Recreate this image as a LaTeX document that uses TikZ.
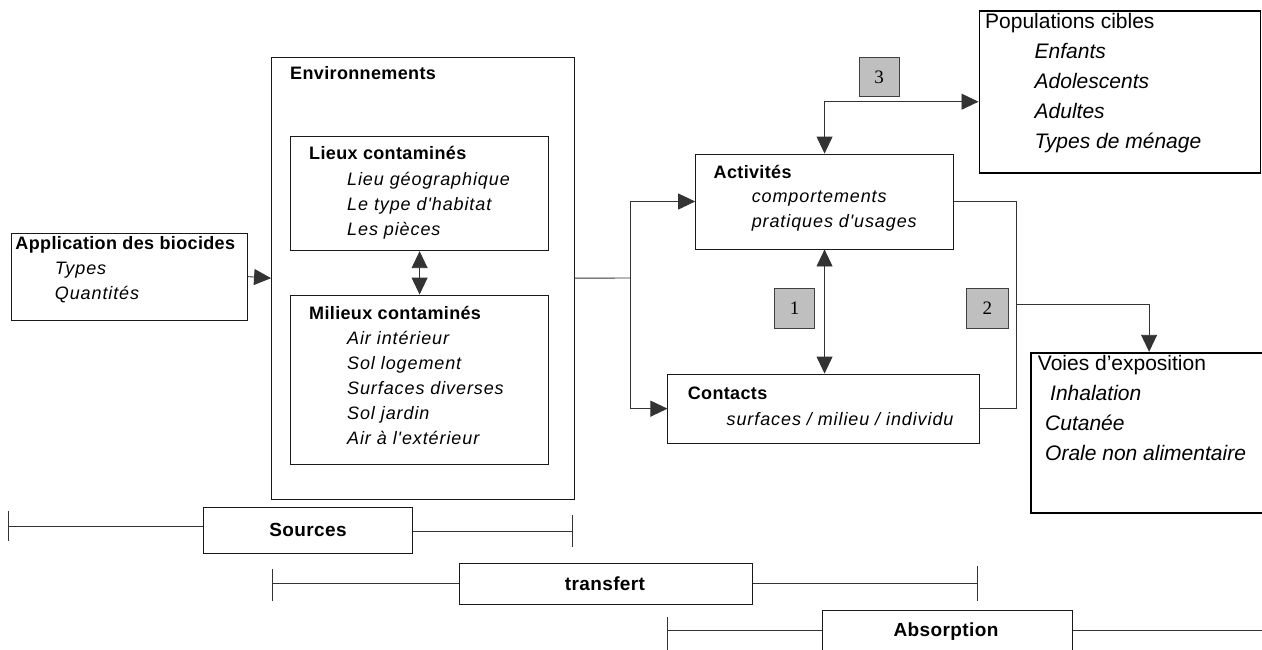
\documentclass[tikz,border=0pt]{standalone}
\usepackage{fontspec}
\setmainfont{Liberation Sans}
\newfontfamily\numfont{Liberation Serif}
\newfontfamily\spfont[LetterSpace=2]{Liberation Sans}
\newfontfamily\itfont[LetterSpace=5]{Liberation Sans}
\usetikzlibrary{fit,arrows.meta}
\begin{document}
\begin{tikzpicture}[x=1pt,y=-1pt,
 box/.style={draw=black!90, line width=0.9pt, inner sep=0pt},
 heavybox/.style={draw=black, line width=1.8pt, inner sep=0pt},
 numbox/.style={draw=black!75, line width=0.9pt, fill=black!25, inner sep=0pt},
 numlbl/.style={inner sep=0pt, font=\numfont\fontsize{19}{22}\selectfont},
 conn/.style={draw=black!80, line width=0.9pt},
 arr/.style={conn, -{Triangle[length=17pt,width=16pt]}},
 dblarr/.style={conn, {Triangle[length=17pt,width=16pt]}-{Triangle[length=17pt,width=16pt]}},
 ttl/.style={anchor=mid west, inner sep=0pt, font=\spfont\bfseries\fontsize{18}{20}\selectfont},
 itm/.style={anchor=mid west, inner sep=0pt, font=\itfont\itshape\fontsize{18}{20}\selectfont},
 bigttl/.style={anchor=mid west, inner sep=0pt, font=\fontsize{21}{25}\selectfont},
 bigitm/.style={anchor=mid west, inner sep=0pt, font=\itshape\fontsize{21}{25}\selectfont},
 barlbl/.style={inner sep=0pt, font=\spfont\bfseries\fontsize{19}{20}\selectfont}
]
\useasboundingbox (0,0) rectangle (1262,649);

% ---- boxes ----
\node[box, fit={(11.5,233.3) (247.6,320)}] (app) {};
\node[box, fit={(271.5,57.3) (574,499)}] (env) {};
\node[box, fit={(290.4,136.7) (548.8,250.7)}] (lieux) {};
\node[box, fit={(290.4,295) (548.8,464.3)}] (milieux) {};
\node[box, fit={(695.6,154) (953.5,249)}] (act) {};
\node[box, fit={(667.9,374) (979,443.3)}] (cont) {};
\node[heavybox, fit={(979.4,11) (1260.5,172.7)}] (pop) {};
\node[heavybox, fit={(1031,352.7) (1280,512.7)}] (voies) {};
\node[numbox, fit={(859,57.3) (899.3,96.7)}] (n3) {};
\node[numbox, fit={(774.9,288.3) (814.3,328.3)}] (n1) {};
\node[numbox, fit={(966.4,288.3) (1008.5,328.3)}] (n2) {};
\node[numlbl] (n3T) at (n3.center) {3};
\node[numlbl] (n1T) at (n1.center) {1};
\node[numlbl] (n2T) at (n2.center) {2};

% ---- texts ----
\node[ttl] (appT) at (15.3,246.7) {Application des biocides};
\node[itm] (appA) at (54.7,271.7) {Types};
\node[itm] (appB) at (54.7,296.7) {Quantités};

\node[ttl] (envT) at (290,76.7) {Environnements};

\node[ttl] (lieuxT) at (309,157) {Lieux contaminés};
\node[itm] (lieuxA) at (347,182.7) {Lieu géographique};
\node[itm] (lieuxB) at (347,207.7) {Le type d'habitat};
\node[itm] (lieuxC) at (347,232.7) {Les pièces};

\node[ttl] (milT) at (309,317.3) {Milieux contaminés};
\node[itm] (milA) at (347,342.3) {Air intérieur};
\node[itm] (milB) at (347,367.3) {Sol logement};
\node[itm] (milC) at (347,392.3) {Surfaces diverses};
\node[itm] (milD) at (347,417.3) {Sol jardin};
\node[itm] (milE) at (347,442.3) {Air à l'extérieur};

\node[ttl] (actT) at (713.5,176) {Activités};
\node[itm] (actA) at (751.6,200) {comportements};
\node[itm] (actB) at (751.6,225) {pratiques d'usages};

\node[ttl] (contT) at (687.6,396.7) {Contacts};
\node[itm] (contA) at (726.5,423.3) {surfaces / milieu / individu};

\node[bigttl] (popT) at (985,26) {Populations cibles};
\node[bigitm] (popA) at (1034.5,55.7) {Enfants};
\node[bigitm] (popB) at (1034.5,85.7) {Adolescents};
\node[bigitm] (popC) at (1034.5,115.7) {Adultes};
\node[bigitm] (popD) at (1034.5,145.7) {Types de ménage};

\node[bigttl] (voiesT) at (1037.7,368) {Voies d’exposition};
\node[bigitm] (voiesA) at (1050,398) {Inhalation};
\node[bigitm] (voiesB) at (1045,428) {Cutanée};
\node[bigitm] (voiesC) at (1045,458) {Orale non alimentaire};

% ---- connectors ----
\draw[arr] (app.east) -- (env.west);
\draw[dblarr] (lieux.south) -- (milieux.north);
\coordinate (J) at (630.7,278);
\draw[conn] (env.east) -- (J);
\draw[arr] (J) |- (act.west);
\draw[arr] (J) |- (cont.west);
\draw[dblarr] (act.south) -- (act.south |- cont.north);
\draw[dblarr] (act.north) |- ([yshift=-9.85pt]pop.west);
\coordinate (R) at (1016.6,304.3);
\draw[conn] (act.east) -| (R);
\draw[conn] (cont.east) -| (R);
\draw[arr] (R) -| ([xshift=119pt]voies.north west);

% ---- bottom bars ----
\node[box, fit={(203.3,507.3) (412.7,553.3)}] (src) {};
\node[box, fit={(459.3,563) (752.7,604)}] (trf) {};
\node[box, fit={(822.3,610.7) (1072.3,660)}] (abs) {};
\node[barlbl] (srcT) at (308,530) {Sources};
\node[barlbl] (trfT) at (605,584) {transfert};
\node[barlbl] (absT) at (946,632) {Absorption};

\coordinate (s1) at (8.3,526);
\coordinate (s2) at (572,531);
\draw[conn] (s1) -- (s1 -| src.west);
\draw[conn] (s2 -| src.east) -- (s2);
\draw[conn] ([yshift=15pt]s1) -- ([yshift=-15pt]s1);
\draw[conn] ([yshift=16.5pt]s2) -- ([yshift=-16pt]s2);

\coordinate (t1) at (272,583.5);
\coordinate (t2) at (977.6,583.5);
\draw[conn] (t1) -- (trf.west |- t1);
\draw[conn] (trf.east |- t2) -- (t2);
\draw[conn] ([yshift=14.5pt]t1) -- ([yshift=-17pt]t1);
\draw[conn] ([yshift=17.5pt]t2) -- ([yshift=-17pt]t2);

\coordinate (a1) at (667,630.7);
\coordinate (a2) at (1265,630.7);
\draw[conn] (a1) -- (a1 -| abs.west);
\draw[conn] (a1 -| abs.east) -- (a2);
\draw[conn] ([yshift=13.4pt]a1) -- ([yshift=-25pt]a1);
\end{tikzpicture}
\end{document}
